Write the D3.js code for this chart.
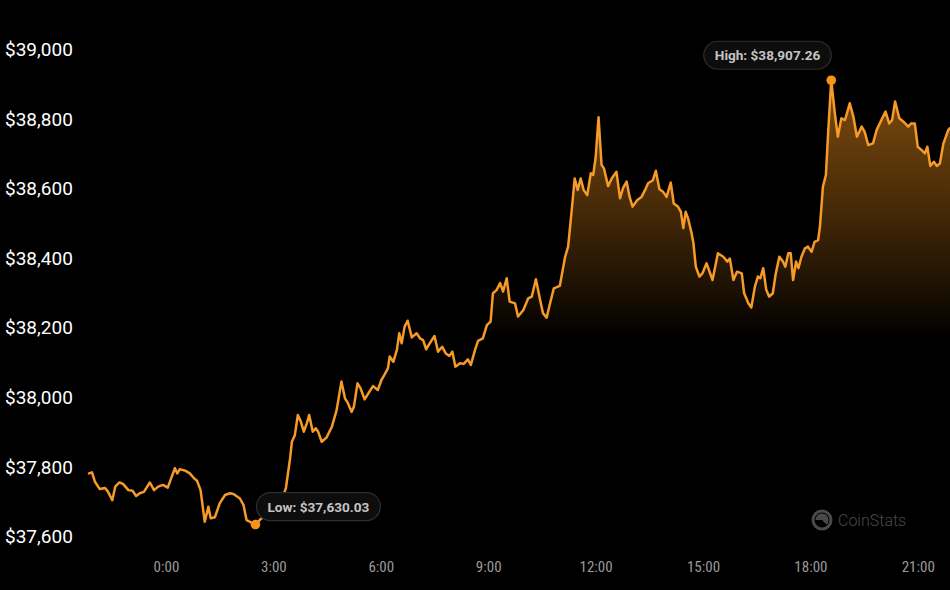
<!DOCTYPE html>
<html>
<head>
<meta charset="utf-8">
<script src="https://cdn.jsdelivr.net/npm/d3@7/dist/d3.min.js"></script>
<style>
  html, body { margin: 0; padding: 0; background: #000; }
  svg { display: block; }
</style>
</head>
<body>
<svg id="chart" width="950" height="590"></svg>
<script>
// minutes relative to 0:00 (negative = previous day)
const minutes = [-129,-124,-119,-111,-102,-97,-90,-85,-78,-72,-63,-56,-50,-44,-37,-27,-20,-13,-5,3,8,15,19,23,32,40,47,52,58,65,71,75,82,90,99,107,113,118,124,130,135,141,150,157,166,183,194,201,208,
211,216,221,226,231,236,240,246,251,255,261,269,278,286,294,300,305,311,315,321,326,333,341,347,355,361,367,372,375,381,387,391,395,400,405,412,420,426,431,
436,442,450,456,463,469,475,480,485,493,499,506,511,518,523,531,538,544,548,554,560,565,571,576,585,590,599,607,613,620,627,632,638,643,650,660,669,674,680,685,690,695,700,706,712,716,720,725,730,734,741,747,755,761,766,772,777,782,790,797,803,808,816,821,827,833,839,846,851,858,863,867,871,875,881,
884,888,894,899,906,916,925,934,941,945,951,957,965,969,976,981,987,992,996,1001,1006,1011,1017,1022,1028,1034,1038,1043,1047,1051,1056,1060,1065,1071,1076,1082,1087,1093,1096,1101,1106,1110,1115,
1121,1126,1132,1138,1146,1152,1158,1166,1171,1177,1185,1191,1199,1206,1212,1217,1222,1229,1236,1244,1249,1255,1260,1266,1272,1276,1281,1287,1292,1297,1303,1311,1314];

const prices = [37777,37780,37753,37732,37735,37724,37700,37739,37751,37747,37729,37727,37712,37720,37724,37751,37729,37739,37744,37736,37760,37792,37777,37789,37785,37777,37763,37756,37729,37638,37681,37648,37651,37691,37715,37720,37718,37712,37705,37686,37643,37638,37630.03,37643,37655,37680,37700,37735,37820,
37868,37887,37945,37926,37897,37921,37945,37897,37907,37897,37868,37880,37911,37959,38041,37993,37979,37954,37969,38036,38022,37990,38012,38028,38017,38045,38063,38079,38113,38098,38132,38180,38151,38199,38216,38168,38180,38165,38160,
38134,38151,38172,38127,38141,38122,38115,38127,38084,38094,38092,38105,38089,38132,38158,38165,38204,38213,38295,38304,38324,38300,38338,38271,38266,38228,38247,38280,38285,38335,38276,38237,38225,38261,38309,38316,38400,38429,38534,38625,38592,38625,38592,38577,38640,38635,38683,38801,38664,38654,38603,38625,38644,38568,38597,38616,38572,38544,38563,38572,38592,38611,38620,38647,38594,38587,38572,38613,38553,38544,38529,38482,38529,38510,38467,
38439,38371,38343,38352,38381,38333,38410,38400,38386,38395,38333,38357,38352,38295,38266,38254,38314,38343,38338,38367,38305,38285,38295,38352,38400,38386,38371,38410,38410,38333,38386,38367,38400,38424,38429,38414,38443,38448,38486,38601,38635,38764,38907.26,
38812,38745,38798,38793,38841,38803,38745,38774,38759,38721,38726,38764,38793,38817,38783,38793,38846,38798,38788,38774,38783,38783,38716,38707,38697,38716,38661,38673,38661,38668,38726,38764,38770];

const yTicks = [39000, 38800, 38600, 38400, 38200, 38000, 37800, 37600];
const xTicks = [0, 180, 360, 540, 720, 900, 1080, 1260];
const xTickLabels = ["0:00", "3:00", "6:00", "9:00", "12:00", "15:00", "18:00", "21:00"];

const data = minutes.map((m, i) => ({ t: m, v: prices[i] }));

const svg = d3.select("#chart");
const W = 950, H = 590;
svg.append("rect").attr("width", W).attr("height", H).attr("fill", "#000");

const x = d3.scaleLinear().domain([d3.min(minutes), d3.max(minutes)]).range([89, 950]);
const y = d3.scaleLinear().domain([37600, 39000]).range([535, 48]);

// gradient
const defs = svg.append("defs");
const grad = defs.append("linearGradient")
  .attr("id", "areaGrad")
  .attr("gradientUnits", "userSpaceOnUse")
  .attr("x1", 0).attr("x2", 0).attr("y1", 80).attr("y2", 340);
grad.append("stop").attr("offset", "0%").attr("stop-color", "#f7931a").attr("stop-opacity", 0.52);
grad.append("stop").attr("offset", "50%").attr("stop-color", "#f7931a").attr("stop-opacity", 0.28);
grad.append("stop").attr("offset", "100%").attr("stop-color", "#f7931a").attr("stop-opacity", 0);

const area = d3.area().x(d => x(d.t)).y0(H).y1(d => y(d.v)).curve(d3.curveLinear);
const line = d3.line().x(d => x(d.t)).y(d => y(d.v)).curve(d3.curveLinear);

svg.append("path").datum(data).attr("d", area).attr("fill", "url(#areaGrad)");
svg.append("path").datum(data).attr("d", line)
  .attr("fill", "none").attr("stroke", "#f69a28").attr("stroke-width", 2.5)
  .attr("stroke-linejoin", "round").attr("stroke-linecap", "round");

// Y axis labels
const yAxis = d3.axisLeft(y).tickValues(yTicks).tickSize(0)
  .tickFormat(d => "$" + d3.format(",")(d));
const gy = svg.append("g").attr("transform", "translate(5,1)").call(yAxis);
gy.select(".domain").remove();
gy.selectAll("text")
  .attr("text-anchor", "start").attr("x", 0).attr("dy", "0.35em")
  .attr("fill", "#ffffff").style("font-family", "Roboto, 'Liberation Sans', sans-serif")
  .style("font-size", "19px");

// X axis labels
const xAxis = d3.axisBottom(x).tickValues(xTicks).tickSize(0)
  .tickFormat((d, i) => xTickLabels[i]);
const gx = svg.append("g").attr("transform", "translate(0,558)").call(xAxis);
gx.select(".domain").remove();
gx.selectAll("text")
  .attr("fill", "#9a9a9a").style("font-family", "'Liberation Sans Narrow', 'Roboto Condensed', 'DejaVu Sans Condensed', Roboto, sans-serif")
  .style("font-size", "15px");

// high / low markers
const hi = data.reduce((a, b) => (b.v > a.v ? b : a));
const lo = data.reduce((a, b) => (b.v < a.v ? b : a));
const fmt = d3.format(",.2f");

function marker(d, label, side) {
  const cx = x(d.t), cy = y(d.v);
  const g = svg.append("g");
  const txt = g.append("text").text(label)
    .attr("fill", "#c4c4c4").style("font-family", "Roboto, sans-serif")
    .style("font-size", "13.6px").style("font-weight", "700")
    .attr("dominant-baseline", "central");
  const tw = txt.node().getComputedTextLength();
  const bw = tw + 22, bh = 28;
  let bx, by;
  if (side === "left") { bx = cx - bw; by = cy - 11 - bh; }
  else { bx = cx + 1; by = cy - 4 - bh; }
  g.insert("rect", "text").attr("x", bx).attr("y", by).attr("width", bw).attr("height", bh)
    .attr("rx", 14).attr("fill", "#0d0d0d").attr("stroke", "#2e2e2e").attr("stroke-width", 1.2);
  txt.attr("x", bx + 11).attr("y", by + bh / 2);
  svg.append("circle").attr("cx", cx).attr("cy", cy).attr("r", 4.8).attr("fill", "#f7931a");
}
marker(hi, "High: $" + fmt(hi.v), "left");
marker(lo, "Low: $" + fmt(lo.v), "right");

// watermark
const wm = svg.append("g").attr("transform", "translate(822,520)");
wm.append("circle").attr("r", 9).attr("fill", "none").attr("stroke", "#4a4a4a").attr("stroke-width", 3);
wm.append("path").attr("d", d3.arc()({ innerRadius: 0, outerRadius: 6.5, startAngle: -Math.PI * 0.5, endAngle: Math.PI * 0.75 }))
  .attr("fill", "#4a4a4a");
svg.append("text").attr("x", 838).attr("y", 520).attr("dominant-baseline", "central")
  .text("CoinStats").attr("fill", "#4a4a4a")
  .style("font-family", "Roboto, sans-serif").style("font-size", "16px").style("font-weight", "300");
</script>
</body>
</html>
